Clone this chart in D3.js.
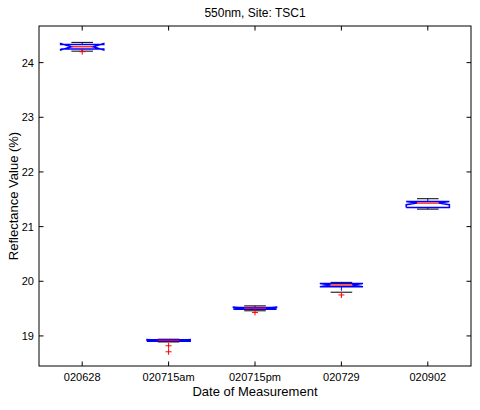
<!DOCTYPE html>
<html>
<head>
<meta charset="utf-8">
<script src="https://cdn.jsdelivr.net/npm/d3@7"></script>
<style>
  body { margin: 0; background: #fff; }
  svg { display: block; font-family: "Liberation Sans", Arial, sans-serif; }
</style>
</head>
<body>
<div id="chart"></div>
<script>
// Data
const dates = ["020628", "020715am", "020715pm", "020729", "020902"];
const whiskerLow = [24.21, 18.89, 19.46, 19.80, 21.32];
const q1 = [24.25, 18.905, 19.49, 19.90, 21.35];
const median = [24.29, 18.92, 19.51, 19.93, 21.43];
const q3 = [24.33, 18.93, 19.52, 19.96, 21.46];
const whiskerHigh = [24.37, 18.94, 19.55, 19.98, 21.51];
const notchHalf = [0.06, 0.012, 0.02, 0.03, 0.03];
const outliers = [[24.20], [18.82, 18.71], [19.43], [19.75], []];
const yTicks = [19, 20, 21, 22, 23, 24];

// Layout
const width = 480, height = 410;
const plotLeft = 39, plotRight = 471, plotTop = 26, plotBottom = 366;

const x = d3.scaleLinear().domain([0.5, dates.length + 0.5]).range([plotLeft, plotRight]);
const y = d3.scaleLinear().domain([18.45, 24.67]).range([plotBottom, plotTop]);
const boxHalf = (x(2) - x(1)) * 0.25;   // box width = half the spacing
const capHalf = boxHalf / 2;

const svg = d3.select("#chart").append("svg")
  .attr("width", width)
  .attr("height", height);

// frame + inward ticks
const frame = svg.append("g");
frame.append("rect")
  .attr("x", plotLeft).attr("y", plotTop)
  .attr("width", plotRight - plotLeft).attr("height", plotBottom - plotTop)
  .attr("fill", "none").attr("stroke", "#000").attr("stroke-width", 1);

const tickLen = 4.5;
frame.append("g").selectAll("line").data(yTicks).join("line")
  .attr("x1", plotLeft).attr("x2", plotLeft + tickLen)
  .attr("y1", d => y(d)).attr("y2", d => y(d))
  .attr("stroke", "#000");
frame.append("g").selectAll("line").data(yTicks).join("line")
  .attr("x1", plotRight).attr("x2", plotRight - tickLen)
  .attr("y1", d => y(d)).attr("y2", d => y(d))
  .attr("stroke", "#000");
frame.append("g").selectAll("line").data(dates).join("line")
  .attr("x1", (d, i) => x(i + 1)).attr("x2", (d, i) => x(i + 1))
  .attr("y1", plotBottom).attr("y2", plotBottom - tickLen)
  .attr("stroke", "#000");
frame.append("g").selectAll("line").data(dates).join("line")
  .attr("x1", (d, i) => x(i + 1)).attr("x2", (d, i) => x(i + 1))
  .attr("y1", plotTop).attr("y2", plotTop + tickLen)
  .attr("stroke", "#000");

// tick labels
svg.append("g").selectAll("text").data(yTicks).join("text")
  .attr("x", plotLeft - 5).attr("y", d => y(d) + 4)
  .attr("text-anchor", "end")
  .attr("font-size", 11)
  .text(d => d);
svg.append("g").selectAll("text").data(dates).join("text")
  .attr("x", (d, i) => x(i + 1)).attr("y", plotBottom + 15)
  .attr("text-anchor", "middle")
  .attr("font-size", 11)
  .text(d => d);

// titles
svg.append("text")
  .attr("x", (plotLeft + plotRight) / 2).attr("y", 17)
  .attr("text-anchor", "middle").attr("font-size", 12)
  .text("550nm, Site: TSC1");
svg.append("text")
  .attr("x", (plotLeft + plotRight) / 2).attr("y", 396)
  .attr("text-anchor", "middle").attr("font-size", 13)
  .text("Date of Measurement");
svg.append("text")
  .attr("transform", `translate(18,${(plotTop + plotBottom) / 2}) rotate(-90)`)
  .attr("text-anchor", "middle").attr("font-size", 13)
  .text("Reflectance Value (%)");

// boxes
const boxes = svg.append("g").selectAll("g").data(dates).join("g");

boxes.each(function(d, i) {
  const g = d3.select(this);
  const cx = x(i + 1);
  // whiskers
  g.append("line")
    .attr("x1", cx).attr("x2", cx)
    .attr("y1", y(whiskerHigh[i])).attr("y2", y(q3[i]))
    .attr("stroke", "#0000ff").attr("stroke-dasharray", "4,2");
  g.append("line")
    .attr("x1", cx).attr("x2", cx)
    .attr("y1", y(q1[i])).attr("y2", y(whiskerLow[i]))
    .attr("stroke", "#0000ff").attr("stroke-dasharray", "4,2");
  // caps
  [whiskerHigh[i], whiskerLow[i]].forEach(v => {
    g.append("line")
      .attr("x1", cx - capHalf).attr("x2", cx + capHalf)
      .attr("y1", y(v)).attr("y2", y(v))
      .attr("stroke", "#000");
  });
  // notched box
  const n1 = median[i] - notchHalf[i], n2 = median[i] + notchHalf[i];
  const pts = [
    [cx - boxHalf, q1[i]], [cx - boxHalf, n1], [cx - boxHalf / 2, median[i]],
    [cx - boxHalf, n2], [cx - boxHalf, q3[i]], [cx + boxHalf, q3[i]],
    [cx + boxHalf, n2], [cx + boxHalf / 2, median[i]], [cx + boxHalf, n1],
    [cx + boxHalf, q1[i]], [cx - boxHalf, q1[i]]
  ];
  g.append("path")
    .attr("d", d3.line().x(p => p[0]).y(p => y(p[1]))(pts))
    .attr("fill", "none").attr("stroke", "#0000ff").attr("stroke-width", 1.5);
  // median
  g.append("line")
    .attr("x1", cx - boxHalf / 2).attr("x2", cx + boxHalf / 2)
    .attr("y1", y(median[i])).attr("y2", y(median[i]))
    .attr("stroke", "#ff0000").attr("stroke-width", 1.2);
  // outliers
  g.selectAll("path.out").data(outliers[i]).join("path")
    .attr("d", v => `M${cx - 3},${y(v)}H${cx + 3}M${cx},${y(v) - 3}V${y(v) + 3}`)
    .attr("stroke", "#ff0000").attr("fill", "none");
});
</script>
</body>
</html>
